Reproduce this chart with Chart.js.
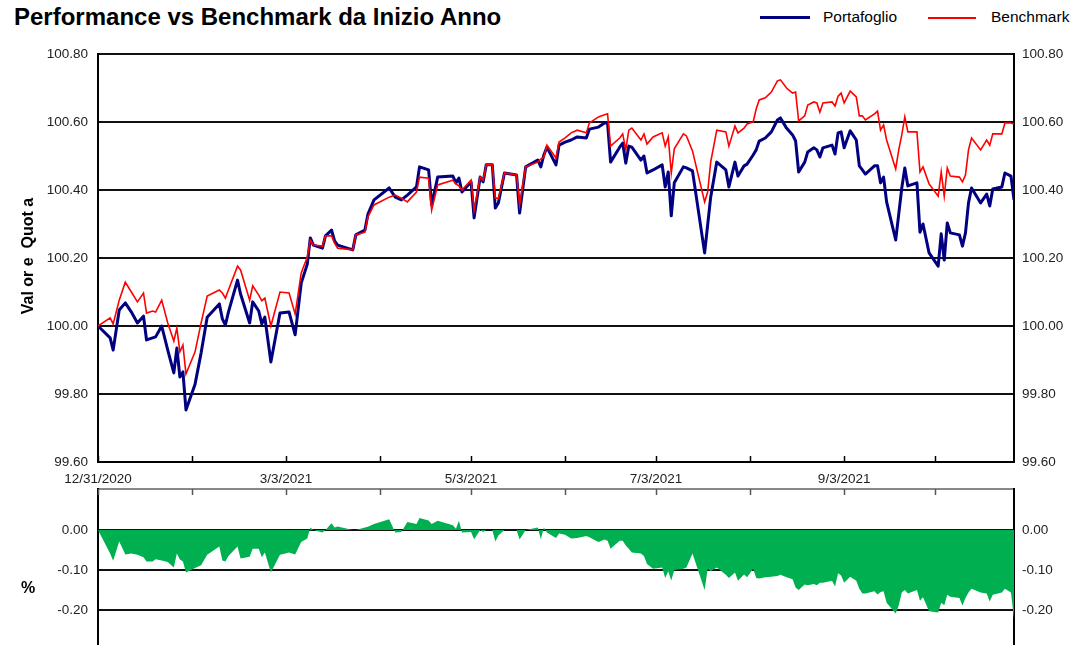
<!DOCTYPE html>
<html>
<head>
<meta charset="utf-8">
<script src="https://cdn.jsdelivr.net/npm/chart.js@4.4.1/dist/chart.umd.min.js"></script>
<style>
  body { margin: 0; background: #fff; width: 1074px; height: 645px; overflow: hidden; position: relative; font-family: 'Liberation Sans', Arial, sans-serif; color: #000; }
  .abs { position: absolute; white-space: pre; }
  #titolo { left: 14px; top: 0; line-height: 34px; font-weight: bold; font-size: 24px; }
  .leg-txt { top: 8px; line-height: 18px; font-size: 15.5px; }
  .leg-linea { position: absolute; }
  .asse-titolo { font-weight: bold; font-size: 16px; transform: translate(-50%, -50%) rotate(-90deg); }
  #grafico { position: absolute; left: 0; top: 0; }
  #differenza { position: absolute; left: 0; top: 486px; }
</style>
</head>
<body>
<div id="titolo" class="abs">Performance vs Benchmark da Inizio Anno</div>
<div class="leg-linea" style="left:760px; top:16px; width:50px; height:3px; background:#000080;"></div>
<div class="abs leg-txt" style="left:823px;">Portafoglio</div>
<div class="leg-linea" style="left:928px; top:17px; width:48px; height:1.5px; background:#ff0000;"></div>
<div class="abs leg-txt" style="left:991px;">Benchmark</div>

<canvas id="grafico" width="1074" height="488"></canvas>
<canvas id="differenza" width="1074" height="159"></canvas>

<div class="abs asse-titolo" style="left:28px; top:256px;">Val or e  Quot a</div>
<div class="abs asse-titolo" style="left:28px; top:588px; transform: translate(-50%, -50%);">%</div>

<script>
// giorni dal 31/12/2020
const giorni = [
  0, 4, 5, 7, 9, 11, 13, 15, 16, 18, 19, 21, 23, 25, 26, 27, 28, 29, 32, 34,
  36, 40, 41, 42, 43, 46, 47, 50, 51, 53, 54, 55, 57, 60, 63, 65, 67, 69, 70, 71,
  74, 75, 77, 78, 79, 84, 85, 88, 89, 91, 96, 98, 100, 102, 105, 106, 109, 110, 112, 117,
  118, 119, 120, 123, 124, 126, 127, 128, 130, 131, 132, 134, 138, 139, 141, 145, 146, 147, 148, 151,
  152, 154, 156, 158, 161, 162, 165, 167, 168, 169, 172, 173, 174, 175, 176, 179, 180, 181, 183, 186,
  187, 188, 189, 190, 193, 194, 196, 200, 201, 202, 204, 207, 208, 210, 211, 213, 214, 216, 217, 218,
  220, 222, 224, 225, 227, 229, 230, 231, 233, 234, 236, 237, 238, 239, 242, 243, 244, 245, 246, 248,
  250, 251, 252, 253, 256, 257, 258, 259, 260, 263, 264, 265, 266, 267, 270, 271, 272, 274, 277, 278,
  279, 280, 281, 284, 285, 286, 287, 288, 291, 293, 294, 295, 298, 299, 301, 302
]

const portafoglio = [
  100.000, 99.965, 99.929, 100.047, 100.068, 100.041, 100.009, 100.029, 99.959, 99.965,
  99.968, 100.000, 99.929, 99.862, 99.935, 99.850, 99.865, 99.753, 99.829, 99.921,
  100.026, 100.065, 100.021, 100.003, 100.041, 100.135, 100.094, 100.009, 100.071, 100.044,
  100.006, 100.026, 99.894, 100.038, 100.041, 99.974, 100.126, 100.182, 100.259, 100.238,
  100.229, 100.265, 100.282, 100.250, 100.238, 100.224, 100.268, 100.282, 100.329, 100.371,
  100.406, 100.379, 100.371, 100.385, 100.409, 100.468, 100.459, 100.356, 100.438, 100.441,
  100.421, 100.435, 100.394, 100.424, 100.318, 100.438, 100.424, 100.474, 100.474, 100.347,
  100.362, 100.450, 100.444, 100.332, 100.468, 100.488, 100.468, 100.503, 100.526, 100.474,
  100.532, 100.541, 100.547, 100.556, 100.553, 100.579, 100.585, 100.597, 100.597, 100.482,
  100.526, 100.538, 100.479, 100.529, 100.526, 100.488, 100.500, 100.450, 100.459, 100.474,
  100.409, 100.453, 100.324, 100.421, 100.468, 100.465, 100.456, 100.215, 100.297, 100.379,
  100.482, 100.459, 100.409, 100.482, 100.441, 100.471, 100.476, 100.503, 100.518, 100.544,
  100.553, 100.571, 100.606, 100.612, 100.582, 100.562, 100.544, 100.453, 100.482, 100.512,
  100.524, 100.518, 100.497, 100.524, 100.532, 100.506, 100.568, 100.571, 100.524, 100.574,
  100.547, 100.471, 100.459, 100.447, 100.471, 100.471, 100.421, 100.438, 100.365, 100.253,
  100.329, 100.406, 100.465, 100.412, 100.421, 100.276, 100.300, 100.215, 100.176, 100.271,
  100.194, 100.303, 100.274, 100.268, 100.235, 100.274, 100.362, 100.406, 100.362, 100.388,
  100.353, 100.403, 100.409, 100.450, 100.441, 100.371
]

const benchmark = [
  100.000, 100.024, 100.006, 100.076, 100.129, 100.100, 100.071, 100.097, 100.038, 100.044,
  100.041, 100.076, 100.009, 99.956, 99.994, 99.924, 99.944, 99.859, 99.924, 100.009,
  100.088, 100.106, 100.097, 100.082, 100.106, 100.176, 100.165, 100.076, 100.118, 100.091,
  100.074, 100.082, 100.000, 100.100, 100.097, 100.035, 100.156, 100.203, 100.253, 100.238,
  100.235, 100.265, 100.265, 100.244, 100.229, 100.224, 100.268, 100.276, 100.321, 100.356,
  100.379, 100.385, 100.376, 100.365, 100.394, 100.438, 100.435, 100.341, 100.415, 100.429,
  100.418, 100.412, 100.400, 100.429, 100.341, 100.438, 100.429, 100.474, 100.474, 100.376,
  100.376, 100.450, 100.444, 100.356, 100.468, 100.482, 100.491, 100.497, 100.532, 100.494,
  100.541, 100.553, 100.568, 100.576, 100.568, 100.597, 100.615, 100.621, 100.624, 100.529,
  100.553, 100.565, 100.518, 100.576, 100.582, 100.547, 100.565, 100.535, 100.556, 100.568,
  100.529, 100.556, 100.450, 100.521, 100.565, 100.559, 100.515, 100.365, 100.394, 100.482,
  100.576, 100.571, 100.529, 100.588, 100.568, 100.582, 100.594, 100.600, 100.638, 100.665,
  100.671, 100.688, 100.721, 100.724, 100.700, 100.685, 100.688, 100.603, 100.618, 100.650,
  100.659, 100.656, 100.629, 100.656, 100.659, 100.647, 100.676, 100.685, 100.656, 100.691,
  100.674, 100.618, 100.618, 100.606, 100.624, 100.632, 100.576, 100.591, 100.547, 100.462,
  100.518, 100.562, 100.615, 100.571, 100.571, 100.453, 100.468, 100.418, 100.382, 100.453,
  100.382, 100.465, 100.441, 100.438, 100.424, 100.444, 100.518, 100.553, 100.518, 100.547,
  100.532, 100.565, 100.565, 100.597, 100.597, 100.594
]

const etichetteDate = ['12/31/2020', '3/3/2021', '5/3/2021', '7/3/2021', '9/3/2021']
const giorniEtichette = [0, 62, 123, 184, 246]
const giorniTacche = [0, 31, 62, 93, 123, 154, 184, 215, 246, 276]
const tickValori = [99.6, 99.8, 100.0, 100.2, 100.4, 100.6, 100.8]
const tickDifferenza = [-0.2, -0.1, 0.0]

// scarto portafoglio - benchmark
const differenza = portafoglio.map((v, i) => +(v - benchmark[i]).toFixed(3))

const FONT = "'Liberation Sans', Arial, sans-serif"
const GIORNO_MAX = 302

// tacche dell'asse x rivolte verso l'interno
const tacchePlugin = {
  id: 'tacche',
  afterDatasetsDraw(chart, args, opts) {
    const { ctx, chartArea, scales } = chart
    ctx.save()
    ctx.strokeStyle = opts.colore || '#000'
    ctx.lineWidth = 1.5
    giorniTacche.forEach(g => {
      const x = Math.round(scales.x.getPixelForValue(g)) + 0.5
      const y0 = opts.alto ? chartArea.top : chartArea.bottom
      const y1 = opts.alto ? y0 + 6 : y0 - 6
      ctx.beginPath()
      ctx.moveTo(x, y0)
      ctx.lineTo(x, y1)
      ctx.stroke()
    })
    ctx.restore()
  }
}

// niente margini automatici: l'area del grafico resta dove la voglio
function senzaMargini(s) {
  s.paddingTop = 0
  s.paddingBottom = 0
  s.paddingLeft = 0
  s.paddingRight = 0
}

function assiY(min, max, valori) {
  const base = {
    type: 'linear',
    min: min,
    max: max,
    afterBuildTicks: s => { s.ticks = valori.map(v => ({ value: v })) },
    ticks: {
      color: '#222',
      font: { family: FONT, size: 13.5 },
      callback: v => Number(v).toFixed(2)
    },
    border: { color: '#000', width: 2 }
  }
  return {
    y: {
      ...base,
      position: 'left',
      afterFit: s => { s.width = 98; senzaMargini(s) },
      ticks: { ...base.ticks, padding: 10 },
      grid: { color: '#111', lineWidth: 2, drawTicks: false }
    },
    y2: {
      ...base,
      position: 'right',
      afterFit: s => { s.width = 60; senzaMargini(s) },
      ticks: { ...base.ticks, padding: 8 },
      grid: { drawOnChartArea: false, drawTicks: false }
    }
  }
}

new Chart(document.getElementById('grafico'), {
  type: 'line',
  data: {
    datasets: [{
      label: 'Benchmark',
      data: giorni.map((g, i) => ({ x: g, y: benchmark[i] })),
      borderColor: '#ff0000',
      borderWidth: 1.6,
      pointRadius: 0,
      tension: 0,
      order: 0
    }, {
      label: 'Portafoglio',
      data: giorni.map((g, i) => ({ x: g, y: portafoglio[i] })),
      borderColor: '#000080',
      borderWidth: 3,
      borderJoinStyle: 'round',
      pointRadius: 0,
      tension: 0,
      order: 1
    }]
  },
  options: {
    responsive: false,
    animation: false,
    layout: { padding: { top: 54, left: 0, right: 0, bottom: 0 } },
    plugins: {
      legend: { display: false },
      tooltip: { enabled: false },
      tacche: { alto: false, colore: '#000' }
    },
    scales: {
      x: {
        type: 'linear',
        min: 0,
        max: GIORNO_MAX,
        afterBuildTicks: s => { s.ticks = giorniTacche.map(v => ({ value: v })) },
        afterFit: s => { s.height = 26; senzaMargini(s) },
        grid: { display: false },
        border: { color: '#000', width: 2 },
        ticks: {
          autoSkip: false,
          maxRotation: 0,
          padding: 1,
          color: '#222',
          font: { family: FONT, size: 13.5 },
          callback: v => {
            const idx = giorniEtichette.indexOf(v)
            return idx >= 0 ? etichetteDate[idx] : ''
          }
        }
      },
      ...assiY(99.6, 100.8, tickValori)
    }
  },
  plugins: [tacchePlugin]
})

new Chart(document.getElementById('differenza'), {
  type: 'line',
  data: {
    datasets: [{
      label: 'Differenza',
      data: giorni.map((g, i) => ({ x: g, y: differenza[i] })),
      backgroundColor: '#00b050',
      borderWidth: 0,
      fill: 'origin',
      pointRadius: 0,
      tension: 0
    }]
  },
  options: {
    responsive: false,
    animation: false,
    layout: { padding: { top: 3, left: 0, right: 0, bottom: 0 } },
    plugins: {
      legend: { display: false },
      tooltip: { enabled: false },
      tacche: { alto: true, colore: '#555' }
    },
    scales: {
      x: {
        type: 'linear',
        position: 'top',
        min: 0,
        max: GIORNO_MAX,
        afterBuildTicks: s => { s.ticks = giorniTacche.map(v => ({ value: v })) },
        afterFit: s => { s.height = 0; senzaMargini(s) },
        grid: { display: false },
        border: { color: '#888', width: 2 },
        ticks: { display: false }
      },
      ...assiY(-0.2875, 0.1025, tickDifferenza)
    }
  },
  plugins: [tacchePlugin]
})
</script>
</body>
</html>
